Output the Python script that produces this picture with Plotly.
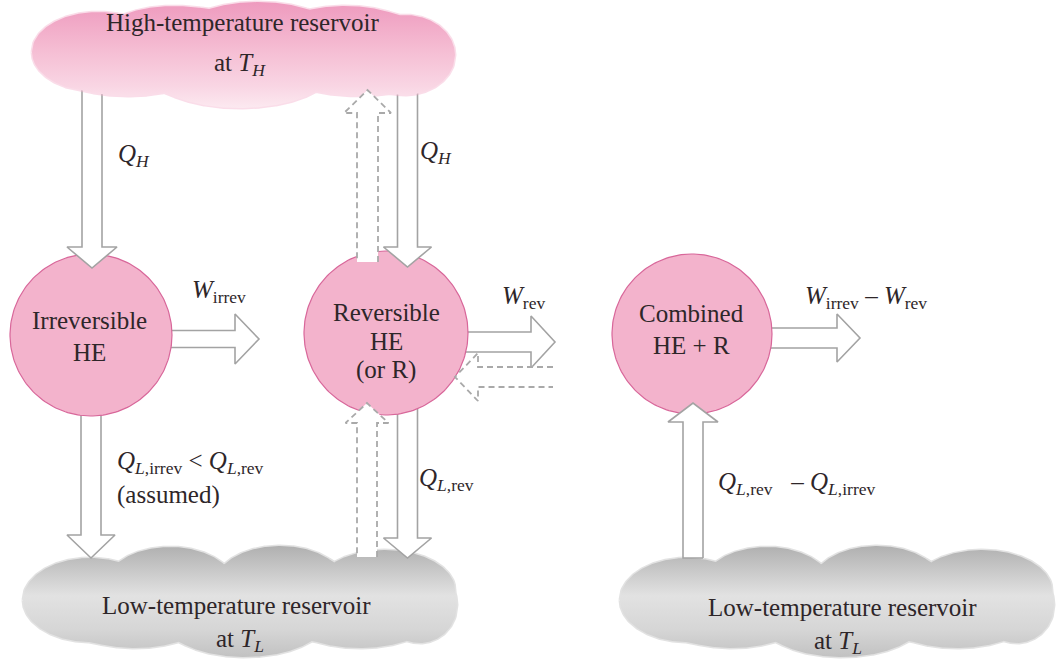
import numpy as np
import plotly.graph_objects as go

W, H = 1062, 659
FONT = "Liberation Serif"
TXT = "#2e2629"
ARROW_LINE = "#a3a3a3"

# ---------------- geometry (pixel space) ----------------
# clouds: list of ellipses (cx, cy, rx, ry)
high_cloud = [(98, 52, 66, 40), (175, 38, 75, 32), (258, 32, 76, 30), (345, 38, 75, 32),
              (405, 55, 50, 40), (240, 70, 92, 38), (128, 68, 75, 28), (358, 68, 75, 28)]
low_cloud_left = [(90, 600, 67, 42), (170, 586, 65, 39), (280, 584, 65, 38), (385, 590, 70, 40),
                  (420, 605, 37, 38), (135, 615, 75, 33), (245, 619, 82, 38), (360, 615, 75, 33)]
low_cloud_dx = 597

# engines: (cx, cy, r)
engines = [(91, 335, 81), (386, 333, 82), (692, 334, 80)]

# solid arrows: (x_tail, y_tail, x_tip, y_tip, shaft_half, head_half, head_len)
arrows_out = [(91, 395, 91, 558, 10, 24, 23),        # Q_L,irrev
              (407.5, 395, 407.5, 558, 10, 24, 20),  # Q_L,rev
              (150, 339, 259, 339, 8.5, 25, 24),     # W_irrev
              (450, 342, 555, 342, 10, 26, 24),      # W_rev
              (755, 338, 860, 338, 10, 24, 23)]      # W_irrev - W_rev
arrows_in = [(92, 80, 92, 268, 10, 25, 21),          # Q_H left
             (407.5, 80, 407.5, 267, 10, 24, 20),    # Q_H right
             (693, 558, 693, 403, 10, 25, 19)]       # Q_L,rev - Q_L,irrev
dashed_arrows = [(367.5, 262, 367.5, 90, 10.5, 23.5, 23),
                 (367, 557, 367, 403, 10, 21.5, 20),
                 (553, 377, 455, 377, 10, 24, 23)]

# ---------------- text ----------------
labels = [
    ("High-temperature reservoir", 242, 22, "center"),
    ("at <i>T</i><sub><i>H</i></sub>", 240, 64, "center"),
    ("<i>Q</i><sub><i>H</i></sub>", 134, 155, "center"),
    ("<i>Q</i><sub><i>H</i></sub>", 436, 152, "center"),
    ("Irreversible", 89, 320, "center"),
    ("HE", 89, 352, "center"),
    ("<i>W</i><sub>irrev</sub>", 190, 291, "left"),
    ("Reversible", 386, 312, "center"),
    ("HE", 386, 341, "center"),
    ("(or R)", 386, 370, "center"),
    ("<i>W</i><sub>rev</sub>", 500, 297, "left"),
    ("Combined", 691, 313, "center"),
    ("HE + R", 691, 345, "center"),
    ("<i>W</i><sub>irrev</sub> \u2013 <i>W</i><sub>rev</sub>", 803, 297, "left"),
    ("<i>Q</i><sub><i>L</i>,irrev</sub> < <i>Q</i><sub><i>L</i>,rev</sub>", 115, 462, "left"),
    ("(assumed)", 115, 495, "left"),
    ("<i>Q</i><sub><i>L</i>,rev</sub>", 417, 479, "left"),
    ("<i>Q</i><sub><i>L</i>,rev</sub>   \u2013 <i>Q</i><sub><i>L</i>,irrev</sub>", 716, 483, "left"),
    ("Low-temperature reservoir", 236, 605, "center"),
    ("at <i>T</i><sub><i>L</i></sub>", 240, 640, "center"),
    ("Low-temperature reservoir", 842, 607, "center"),
    ("at <i>T</i><sub><i>L</i></sub>", 838, 642, "center"),
]
FONT_SIZE = 25


def cloud_outline(ells, dx=0, n=500):
    x0 = min(cx - rx for cx, cy, rx, ry in ells)
    x1 = max(cx + rx for cx, cy, rx, ry in ells)
    xs = np.linspace(x0, x1, n)
    top, bot = [], []
    for x in xs:
        t, b = np.inf, -np.inf
        for cx, cy, rx, ry in ells:
            d = (x - cx) / rx
            if abs(d) <= 1:
                h = ry * np.sqrt(max(0.0, 1 - d * d))
                t = min(t, cy - h)
                b = max(b, cy + h)
        top.append(t)
        bot.append(b)
    px = list(xs + dx) + list((xs + dx)[::-1])
    py = top + bot[::-1]
    return px, py, min(top), max(bot)


def arrow_poly(xt, yt, xh, yh, sw, hw, hl):
    L = np.hypot(xh - xt, yh - yt)
    ux, uy = (xh - xt) / L, (yh - yt) / L
    nx, ny = -uy, ux
    bx, by = xh - ux * hl, yh - uy * hl
    pts = [(xt + nx * sw, yt + ny * sw), (bx + nx * sw, by + ny * sw), (bx + nx * hw, by + ny * hw),
           (xh, yh), (bx - nx * hw, by - ny * hw), (bx - nx * sw, by - ny * sw), (xt - nx * sw, yt - ny * sw)]
    return pts


fig = go.Figure()


def add_cloud(ells, dx, scale, halo):
    px, py, ytop, ybot = cloud_outline(ells, dx)
    # soft edge
    fig.add_trace(go.Scatter(x=px, y=py, mode="lines", line=dict(width=3, color=halo),
                             hoverinfo="skip"))
    fig.add_trace(go.Scatter(x=px, y=py, mode="lines", fill="toself",
                             line=dict(width=0, color="rgba(0,0,0,0)"),
                             fillgradient=dict(type="vertical", colorscale=scale, start=ytop, stop=ybot),
                             hoverinfo="skip"))


def add_solid_arrow(a):
    pts = arrow_poly(*a)
    xs = [p[0] for p in pts] + [pts[0][0]]
    ys = [p[1] for p in pts] + [pts[0][1]]
    fig.add_trace(go.Scatter(x=xs, y=ys, mode="lines", fill="toself", fillcolor="white",
                             line=dict(color=ARROW_LINE, width=1.6), hoverinfo="skip"))


def add_dashed_arrow(a):
    pts = arrow_poly(*a)
    xs = [p[0] for p in pts]
    ys = [p[1] for p in pts]
    fig.add_trace(go.Scatter(x=xs + [xs[0]], y=ys + [ys[0]], mode="lines", fill="toself",
                             fillcolor="white", line=dict(width=0, color="rgba(0,0,0,0)"),
                             hoverinfo="skip"))
    fig.add_trace(go.Scatter(x=xs, y=ys, mode="lines",
                             line=dict(color="#a9a9a9", width=1.8, dash="6px,4px"), hoverinfo="skip"))


gray_scale = [[0, "#b0b0b0"], [0.45, "#e2e2e2"], [0.75, "#d6d6d6"], [1, "#c2c2c2"]]
pink_scale = [[0, "#ee9abe"], [0.45, "#f5bdd3"], [0.8, "#f9d6e4"], [1, "#fce9f0"]]

# low clouds
add_cloud(low_cloud_left, 0, gray_scale, "rgba(190,190,190,0.45)")
add_cloud(low_cloud_left, low_cloud_dx, gray_scale, "rgba(190,190,190,0.45)")

# outgoing arrows (under engines)
for a in arrows_out:
    add_solid_arrow(a)

# engines
th = np.linspace(0, 2 * np.pi, 200)
for cx, cy, r in engines:
    fig.add_trace(go.Scatter(x=cx + r * np.cos(th), y=cy + r * np.sin(th), mode="lines", fill="toself",
                             fillcolor="#f3b3cc", line=dict(color="#d8679a", width=1.2), hoverinfo="skip"))

# incoming arrows
for a in arrows_in:
    add_solid_arrow(a)

# high cloud
add_cloud(high_cloud, 0, pink_scale, "rgba(244,180,206,0.45)")

# dashed arrows
for a in dashed_arrows:
    add_dashed_arrow(a)

for text, x, y, anchor in labels:
    fig.add_annotation(x=x, y=y, text=text, showarrow=False, xanchor=anchor, yanchor="middle",
                       font=dict(family=FONT, size=FONT_SIZE, color=TXT))

fig.update_layout(width=W, height=H, margin=dict(l=0, r=0, t=0, b=0),
                  paper_bgcolor="white", plot_bgcolor="white", showlegend=False,
                  xaxis=dict(range=[0, W], visible=False, fixedrange=True),
                  yaxis=dict(range=[H, 0], visible=False, fixedrange=True))

fig.write_html("out.html", config={"displayModeBar": False},
               post_script="document.body.style.margin='0px';document.body.style.overflow='hidden';")
